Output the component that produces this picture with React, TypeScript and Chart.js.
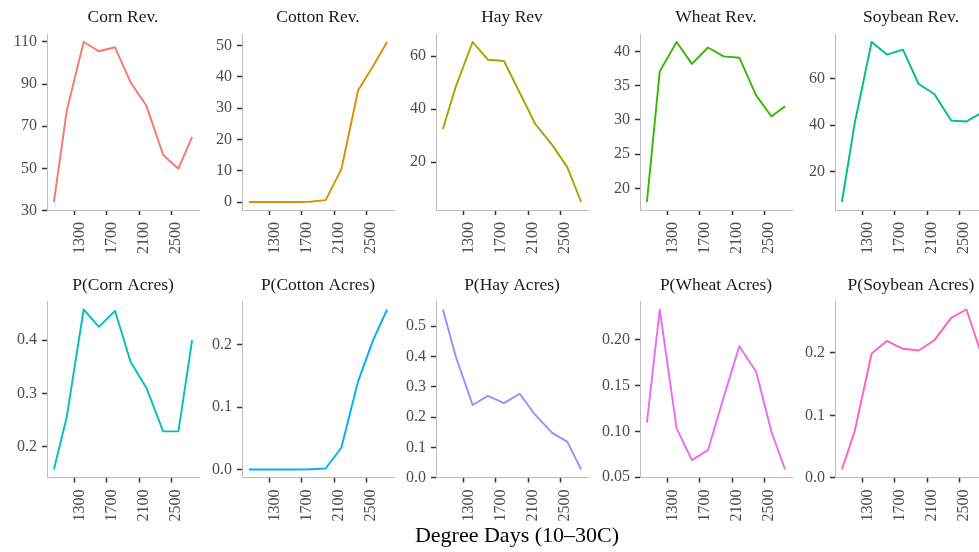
import React, { useEffect, useRef } from "react";
import { Chart, registerables } from "chart.js";

Chart.register(...registerables);

// Shared x values (degree days, 10–30C) and x tick labels
const degreeDays = [1040, 1200, 1410, 1600, 1800, 1995, 2190, 2400, 2590, 2760];
const xTickLabels = ["1300", "1700", "2100", "2500"];

// Revenue series
const cornRev = [34, 77.4, 110, 105.6, 107.5, 90.8, 79.8, 56.3, 49.8, 64.9];
const cottonRev = [0, 0, 0, 0, 0.1, 0.6, 10.4, 35.7, 43.6, 51.1];
const hayRev = [32.5, 48.5, 65.4, 58.7, 58.2, 46.3, 34.4, 26.5, 18, 4.9];
const wheatRev = [18, 37.1, 41.4, 38.2, 40.6, 39.3, 39.1, 33.6, 30.5, 32];
const soybeanRev = [7.1, 41, 75.7, 70.3, 72.4, 57.7, 53.4, 42, 41.6, 45];

// Acreage share series
const pCorn = [0.1575, 0.256, 0.4575, 0.425, 0.455, 0.359, 0.311, 0.229, 0.229, 0.4];
const pCotton = [0, 0, 0, 0, 0.0003, 0.0016, 0.035, 0.142, 0.209, 0.257];
const pHay = [0.555, 0.4, 0.24, 0.27, 0.246, 0.277, 0.207, 0.148, 0.118, 0.027];
const pWheat = [0.1095, 0.233, 0.1033, 0.0686, 0.0795, 0.137, 0.193, 0.165, 0.0996, 0.0584];
const pSoybean = [0.0133, 0.075, 0.199, 0.219, 0.2064, 0.2037, 0.22, 0.256, 0.2693, 0.204];

// Y tick labels per panel
const cornRevTicks = ["30", "50", "70", "90", "110"];
const cottonRevTicks = ["0", "10", "20", "30", "40", "50"];
const hayRevTicks = ["20", "40", "60"];
const wheatRevTicks = ["20", "25", "30", "35", "40"];
const soybeanRevTicks = ["20", "40", "60"];
const pCornTicks = ["0.2", "0.3", "0.4"];
const pCottonTicks = ["0.0", "0.1", "0.2"];
const pHayTicks = ["0.0", "0.1", "0.2", "0.3", "0.4", "0.5"];
const pWheatTicks = ["0.05", "0.10", "0.15", "0.20"];
const pSoybeanTicks = ["0.0", "0.1", "0.2"];

const titles = [
  "Corn Rev.", "Cotton Rev.", "Hay Rev", "Wheat Rev.", "Soybean Rev.",
  "P(Corn Acres)", "P(Cotton Acres)", "P(Hay Acres)", "P(Wheat Acres)", "P(Soybean Acres)",
];
const seriesList = [cornRev, cottonRev, hayRev, wheatRev, soybeanRev, pCorn, pCotton, pHay, pWheat, pSoybean];
const tickLists = [
  cornRevTicks, cottonRevTicks, hayRevTicks, wheatRevTicks, soybeanRevTicks,
  pCornTicks, pCottonTicks, pHayTicks, pWheatTicks, pSoybeanTicks,
];
const colors = [
  "#F8766D", "#D89000", "#A3A500", "#39B600", "#00BF7D",
  "#00BFC4", "#00B0F6", "#9590FF", "#E76BF3", "#FF62BC",
];

const xAxisTitle = "Degree Days (10–30C)";

// Layout
const FONT = "'Liberation Serif', 'Times New Roman', serif";
const COL_PLOT_LEFT = [47, 242, 436, 640, 835];
const PLOT_W = 152;
const Y_AXIS_W = 47;
const RIGHT_PAD = 2;
const ROWS = [
  { top: 0, height: 270, titleTop: 6.5, titleBottom: 6.5, xAxisH: 60 },
  { top: 270, height: 282, titleTop: 4.5, titleBottom: 6, xAxisH: 74.5 },
];

function expand(values: number[]) {
  const lo = Math.min(...values);
  const hi = Math.max(...values);
  const pad = (hi - lo) * 0.05;
  return [lo - pad, hi + pad];
}

function Panel({ index }: { index: number }) {
  const ref = useRef<HTMLCanvasElement>(null);
  const row = ROWS[Math.floor(index / 5)];
  const col = index % 5;
  const left = COL_PLOT_LEFT[col] - Y_AXIS_W;
  const width = Y_AXIS_W + PLOT_W + RIGHT_PAD;

  useEffect(() => {
    const values = seriesList[index];
    const yLabels = tickLists[index];
    const [yMin, yMax] = expand(values);
    const [xMin, xMax] = expand(degreeDays);
    const tickFont = { family: FONT, size: 16 };

    const chart = new Chart(ref.current as HTMLCanvasElement, {
      type: "line",
      data: {
        datasets: [
          {
            data: degreeDays.map((x, i) => ({ x, y: values[i] })),
            borderColor: colors[index],
            borderWidth: 1.9,
            borderJoinStyle: "round",
            pointRadius: 0,
            tension: 0,
            fill: false,
          },
        ],
      },
      options: {
        animation: false,
        responsive: false,
        devicePixelRatio: 1,
        layout: { padding: { left: 0, right: RIGHT_PAD, top: 0, bottom: 0 } },
        plugins: {
          legend: { display: false },
          tooltip: { enabled: false },
          title: {
            display: true,
            text: titles[index],
            fullSize: false,
            color: "#1A1A1A",
            font: { family: FONT, size: 17.5, weight: "normal", lineHeight: 1.2 },
            padding: { top: row.titleTop, bottom: row.titleBottom },
          },
        },
        scales: {
          x: {
            type: "linear",
            min: xMin,
            max: xMax,
            bounds: "data",
            afterBuildTicks: (scale: any) => {
              scale.ticks = xTickLabels.map((s) => ({ value: Number(s) }));
            },
            afterFit: (scale: any) => {
              scale.height = row.xAxisH;
            },
            grid: {
              display: true,
              drawOnChartArea: false,
              drawTicks: true,
              tickLength: 5,
              tickColor: "#333333",
              tickWidth: 1.5,
            },
            border: { display: true, color: "#BDBDBD", width: 1 },
            ticks: {
              autoSkip: false,
              minRotation: 90,
              maxRotation: 90,
              padding: 7,
              labelOffset: 5,
              color: "#4D4D4D",
              font: tickFont,
              callback: (_v: any, i: number) => xTickLabels[i],
            },
          },
          y: {
            type: "linear",
            min: yMin,
            max: yMax,
            bounds: "data",
            afterBuildTicks: (scale: any) => {
              scale.ticks = yLabels.map((s) => ({ value: Number(s) }));
            },
            afterFit: (scale: any) => {
              scale.width = Y_AXIS_W;
            },
            grid: {
              display: true,
              drawOnChartArea: false,
              drawTicks: true,
              tickLength: 5,
              tickColor: "#333333",
              tickWidth: 1.5,
            },
            border: { display: true, color: "#BDBDBD", width: 1 },
            ticks: {
              autoSkip: false,
              padding: 5,
              color: "#4D4D4D",
              font: tickFont,
              callback: (_v: any, i: number) => yLabels[i],
            },
          },
        },
      } as any,
    });
    return () => chart.destroy();
  }, [index]);

  return (
    <canvas
      ref={ref}
      width={width}
      height={row.height}
      style={{ position: "absolute", left, top: row.top, width, height: row.height }}
    />
  );
}

export default function App() {
  return (
    <div
      style={{
        position: "fixed",
        left: 0,
        top: 0,
        width: 979,
        height: 552,
        overflow: "hidden",
        background: "#FFFFFF",
      }}
    >
      {titles.map((_, i) => (
        <Panel key={i} index={i} />
      ))}
      <div
        style={{
          position: "absolute",
          left: 317,
          width: 400,
          top: 522,
          textAlign: "center",
          fontFamily: FONT,
          fontSize: 22,
          lineHeight: "26px",
          color: "#000000",
        }}
      >
        {xAxisTitle}
      </div>
    </div>
  );
}
